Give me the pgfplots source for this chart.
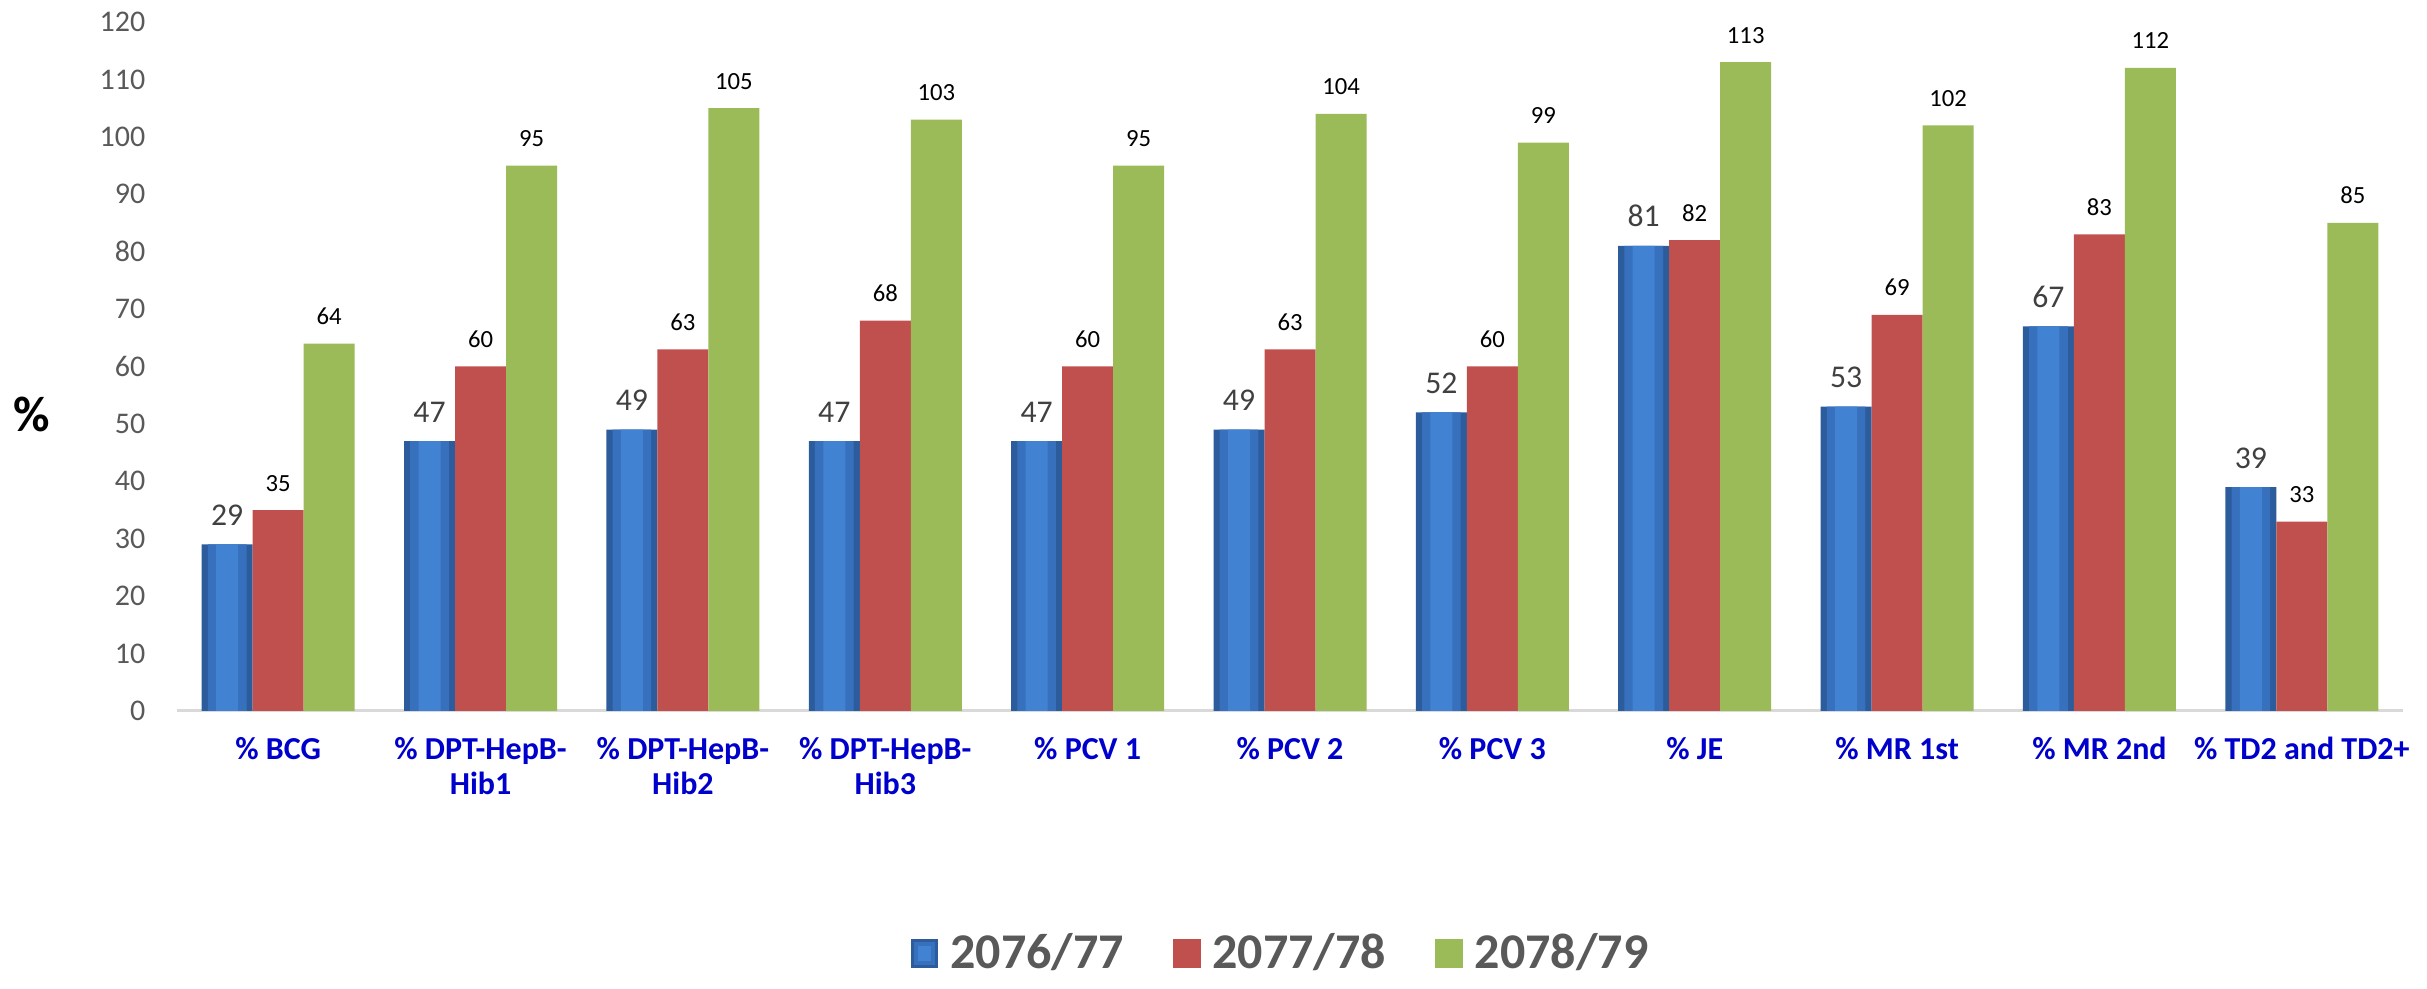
\documentclass[border=0pt]{standalone}
\usepackage{pgfplots}
\pgfplotsset{compat=1.18}
\usepackage{fontspec}
\setmainfont{Carlito}
\definecolor{blueE}{HTML}{2C5C9C}
\definecolor{blueM}{HTML}{3770BC}
\definecolor{blueC}{HTML}{4282D2}
\definecolor{redB}{HTML}{C0504D}
\definecolor{greenB}{HTML}{9BBB59}
\definecolor{tickgray}{HTML}{595959}
\definecolor{valgray}{HTML}{404040}
\definecolor{labblue}{HTML}{0000CC}
\definecolor{axgray}{HTML}{D9D9D9}
\begin{document}
\begin{tikzpicture}
\useasboundingbox (-53.1pt,-83.4pt) rectangle (675pt,213.3pt);
\begin{axis}[
  scale only axis, width=667.8pt, height=206.7pt,
  at={(0,0)}, anchor=south west,
  xmin=-0.5, xmax=10.5, ymin=0, ymax=120,
  ybar=0pt, bar width=15.3pt,
  axis lines*=left,
  x axis line style={draw=axgray, line width=0.9pt, -},
  y axis line style={draw=none},
  major tick length=0pt,
  tick style={draw=none},
  xtick={0,...,10},
  xticklabels={{\% BCG},{\% DPT-HepB-\\Hib1},{\% DPT-HepB-\\Hib2},{\% DPT-HepB-\\Hib3},{\% PCV 1},{\% PCV 2},{\% PCV 3},{\% JE},{\% MR 1st},{\% MR 2nd},{\% TD2 and TD2+}},
  ytick={0,10,...,120},
  /pgf/number format/assume math mode=true,
  yticklabel style={anchor=east, inner sep=0pt, xshift=-9.3pt, font=\fontsize{9}{10}\selectfont, text=tickgray},
  xticklabel style={anchor=north, inner sep=0pt, yshift=-7.6pt, align=center, font=\bfseries\fontsize{9.6}{10.6}\selectfont, text=labblue},
  ylabel={\%},
  every axis y label/.style={at={(rel axis cs:-0.0651,0.431)}, anchor=center, font=\bfseries\fontsize{15}{18}\selectfont},
  legend columns=3,
  legend style={draw=none, fill=none, inner sep=0pt, at={(0.3293,-0.352)}, anchor=west,
    nodes={inner sep=0pt, font=\bfseries\fontsize{15}{18}\selectfont, text=tickgray},
    /tikz/every odd column/.style={column sep=3.6pt},
    /tikz/every even column/.style={column sep=14.7pt}},
  legend image code/.code={\path[#1, draw=none] (0pt,-4.3pt) rectangle (8.3pt,4.3pt);},
  clip=false,
]
\addplot[draw=none, fill=blueE, bar shift=-15.3pt,
  legend image code/.code={\fill[blueE] (0pt,-4.3pt) rectangle (8.3pt,4.3pt); \fill[blueM] (0.9pt,-3.4pt) rectangle (7.4pt,3.4pt); \fill[blueC] (2.2pt,-2.3pt) rectangle (6.1pt,2.3pt);},
  nodes near coords,
  every node near coord/.append style={anchor=base, inner sep=0pt, yshift=5.7pt, font=\fontsize{9.5}{11}\selectfont, text=valgray}]
  coordinates {(0,29) (1,47) (2,49) (3,47) (4,47) (5,49) (6,52) (7,81) (8,53) (9,67) (10,39)};
\addplot[draw=none, fill=redB, bar shift=0pt,
  nodes near coords,
  every node near coord/.append style={anchor=base, inner sep=0pt, yshift=5.7pt, font=\fontsize{7.4}{9}\selectfont, text=black}]
  coordinates {(0,35) (1,60) (2,63) (3,68) (4,60) (5,63) (6,60) (7,82) (8,69) (9,83) (10,33)};
\addplot[draw=none, fill=greenB, bar shift=15.3pt,
  nodes near coords,
  every node near coord/.append style={anchor=base, inner sep=0pt, yshift=5.7pt, font=\fontsize{7.4}{9}\selectfont, text=black}]
  coordinates {(0,64) (1,95) (2,105) (3,103) (4,95) (5,104) (6,99) (7,113) (8,102) (9,112) (10,85)};
\addplot[forget plot, draw=none, fill=blueM, bar shift=-15.3pt, bar width=11.6pt]
  coordinates {(0,29) (1,47) (2,49) (3,47) (4,47) (5,49) (6,52) (7,81) (8,53) (9,67) (10,39)};
\addplot[forget plot, draw=none, fill=blueC, bar shift=-15.3pt, bar width=6.6pt]
  coordinates {(0,29) (1,47) (2,49) (3,47) (4,47) (5,49) (6,52) (7,81) (8,53) (9,67) (10,39)};
\legend{2076/77, 2077/78, 2078/79}
\end{axis}
\end{tikzpicture}
\end{document}
